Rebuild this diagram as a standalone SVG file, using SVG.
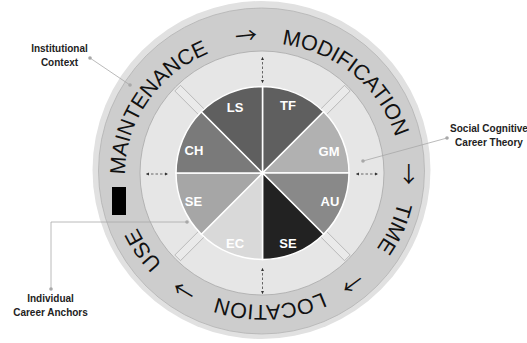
<svg xmlns="http://www.w3.org/2000/svg" xmlns:xlink="http://www.w3.org/1999/xlink" width="527" height="343" viewBox="0 0 527 343">
<style>
.ring{font-family:"Liberation Sans",Arial,sans-serif;font-size:21.5px;fill:#111;}
.arr{font-family:"Noto Sans CJK SC","DejaVu Sans",sans-serif;font-size:22px;}
.lbl{font-family:"Liberation Sans",Arial,sans-serif;font-size:13px;font-weight:bold;fill:#fff;text-anchor:middle;}
.call{font-family:"Liberation Sans",Arial,sans-serif;font-size:10px;font-weight:bold;fill:#222;text-anchor:middle;}
.cl{stroke:#a8a8a8;stroke-width:0.8;fill:none;}
.dot{fill:#a8a8a8;}
.dash{stroke:#444;stroke-width:0.8;stroke-dasharray:2.5 2;fill:none;marker-start:url(#ah);marker-end:url(#ah);}
.brk{fill:#eaeaea;stroke:#a8a8a8;stroke-width:0.7;}
.sl{stroke:#fff;stroke-width:1.5;}
</style>
<defs>
<marker id="ah" viewBox="0 0 6 6" refX="5" refY="3" markerWidth="4" markerHeight="4" orient="auto-start-reverse" markerUnits="strokeWidth">
<path d="M0,0 L6,3 L0,6 Z" fill="#333"/>
</marker>
<path id="tp" d="M263,43 A138,131 0 1 1 263,305 A138,131 0 1 1 263,43"/>
</defs>
<rect width="527" height="343" fill="#fff"/>
<g id="rings">
<circle cx="261.5" cy="170" r="169" fill="#e1e1e1"/>
<circle cx="261.5" cy="171" r="163" fill="#cdcdcd" stroke="#b3b3b3" stroke-width="0.8"/>
<circle cx="262" cy="173" r="122" fill="#e6e6e6" stroke="#a8a8a8" stroke-width="0.8"/>
</g>
<g id="brackets">
<rect class="brk" x="-4" y="-120" width="8" height="36" transform="translate(262.5,173) rotate(45)"/>
<rect class="brk" x="-4" y="-120" width="8" height="36" transform="translate(262.5,173) rotate(135)"/>
<rect class="brk" x="-4" y="-120" width="8" height="36" transform="translate(262.5,173) rotate(225)"/>
<rect class="brk" x="-4" y="-120" width="8" height="36" transform="translate(262.5,173) rotate(315)"/>
</g>
<g id="pie">
<g id="TF"><path class="sl" fill="#5f5f5f" d="M262.5,173 L262.5,86.5 A86.5,86.5 0 0 1 323.66,111.84 Z"/><text class="lbl" x="288" y="110">TF</text></g>
<g id="GM"><path class="sl" fill="#b1b1b1" d="M262.5,173 L323.66,111.84 A86.5,86.5 0 0 1 349,173 Z"/><text class="lbl" x="329" y="155.5">GM</text></g>
<g id="AU"><path class="sl" fill="#898989" d="M262.5,173 L349,173 A86.5,86.5 0 0 1 323.66,234.16 Z"/><text class="lbl" x="330" y="205.5">AU</text></g>
<g id="SE2"><path class="sl" fill="#222" d="M262.5,173 L323.66,234.16 A86.5,86.5 0 0 1 262.5,259.5 Z"/><text class="lbl" x="288" y="248">SE</text></g>
<g id="EC"><path class="sl" fill="#d9d9d9" d="M262.5,173 L262.5,259.5 A86.5,86.5 0 0 1 201.34,234.16 Z"/><text class="lbl" x="235" y="248">EC</text></g>
<g id="SE1"><path class="sl" fill="#a6a6a6" d="M262.5,173 L201.34,234.16 A86.5,86.5 0 0 1 176,173 Z"/><text class="lbl" x="193.5" y="205.5">SE</text></g>
<g id="CH"><path class="sl" fill="#7a7a7a" d="M262.5,173 L176,173 A86.5,86.5 0 0 1 201.34,111.84 Z"/><text class="lbl" x="194" y="155">CH</text></g>
<g id="LS"><path class="sl" fill="#5f5f5f" d="M262.5,173 L201.34,111.84 A86.5,86.5 0 0 1 262.5,86.5 Z"/><text class="lbl" x="235" y="111.5">LS</text></g>
</g>
<g id="connectors">
<path class="dash" d="M262.5,57.5 L262.5,82.5"/>
<path class="dash" d="M262.5,268.5 L262.5,293.5"/>
<path class="dash" d="M146.5,174 L167.5,174"/>
<path class="dash" d="M356.5,174 L377.5,174"/>
<path class="cl" d="M90,58 L130,85"/>
<path class="cl" d="M447,138 L363,161"/>
<path class="cl" d="M187,222 L51,222 L51,289"/>
<circle class="dot" cx="90" cy="58" r="1.8"/>
<circle class="dot" cx="130" cy="85" r="1.8"/>
<circle class="dot" cx="447" cy="138" r="1.8"/>
<circle class="dot" cx="363" cy="161" r="1.8"/>
<circle class="dot" cx="187" cy="222" r="1.8"/>
<circle class="dot" cx="51" cy="289" r="1.8"/>
</g>
<g id="ringtext" class="ring" text-anchor="middle">
<text><textPath xlink:href="#tp" href="#tp" startOffset="11.39%">MODIFICATION</textPath></text>
<text class="arr"><textPath xlink:href="#tp" href="#tp" startOffset="25%">→</textPath></text>
<text><textPath xlink:href="#tp" href="#tp" startOffset="31.39%">TIME</textPath></text>
<text class="arr"><textPath xlink:href="#tp" href="#tp" startOffset="39.31%">→</textPath></text>
<text><textPath xlink:href="#tp" href="#tp" startOffset="49.17%">LOCATION</textPath></text>
<text class="arr"><textPath xlink:href="#tp" href="#tp" startOffset="59.31%">→</textPath></text>
<text><textPath xlink:href="#tp" href="#tp" startOffset="65.83%">USE</textPath></text>
<text><textPath xlink:href="#tp" href="#tp" startOffset="84.17%">MAINTENANCE</textPath></text>
<text class="arr"><textPath xlink:href="#tp" href="#tp" startOffset="98.1%">→</textPath></text>
</g>
<rect id="blackbox" x="112" y="187" width="14" height="28" fill="#000"/>
<g id="labels">
<text class="call" x="59.5" y="51.5">Institutional</text>
<text class="call" x="59.5" y="65.5">Context</text>
<text class="call" x="489" y="132">Social Cognitive</text>
<text class="call" x="489" y="145.5">Career Theory</text>
<text class="call" x="50.5" y="301.5">Individual</text>
<text class="call" x="50.5" y="315.5">Career Anchors</text>
</g>
</svg>
